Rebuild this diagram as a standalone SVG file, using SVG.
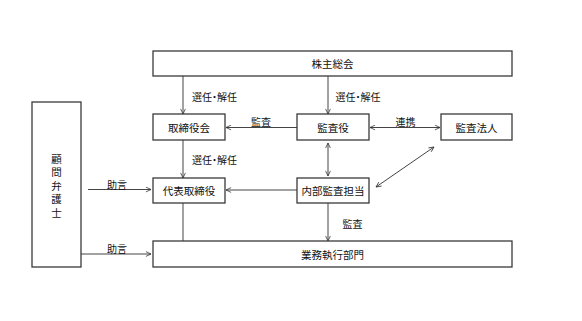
<svg xmlns="http://www.w3.org/2000/svg" width="582" height="321" viewBox="0 0 582 321">
<defs>
<marker id="ah" viewBox="0 0 10 10" refX="9.5" refY="5" markerWidth="6" markerHeight="6" orient="auto-start-reverse" markerUnits="userSpaceOnUse">
<path d="M1,1 L9.5,5 L1,9" fill="none" stroke="#333" stroke-width="1.3"/>
</marker>
<style>
.box{fill:#fff;stroke:#3a3a3a;stroke-width:1.3}
.t{font-family:"Noto Sans CJK JP","Noto Sans CJK SC",sans-serif;font-size:10.5px;fill:#111;text-anchor:middle;dominant-baseline:central}
.l{font-family:"Noto Sans CJK JP","Noto Sans CJK SC",sans-serif;font-size:10px;fill:#111;text-anchor:middle;dominant-baseline:central;font-feature-settings:"palt"}
.c{fill:none;stroke:#444;stroke-width:1}
.a{marker-end:url(#ah)}
.d{marker-start:url(#ah);marker-end:url(#ah)}
</style>
</defs>
<rect width="582" height="321" fill="#fff"/>
<g id="connectors">
<line class="c a" x1="183" y1="76" x2="183" y2="114"/>
<line class="c a" x1="328" y1="76" x2="328" y2="114"/>
<line class="c a" x1="297" y1="127.5" x2="226" y2="127.5"/>
<line class="c d" x1="370" y1="127.5" x2="440" y2="127.5"/>
<line class="c a" x1="183" y1="140" x2="183" y2="178"/>
<line class="c d" x1="328" y1="143" x2="328" y2="176"/>
<line class="c d" x1="376" y1="187" x2="434" y2="147"/>
<line class="c a" x1="297" y1="190" x2="226" y2="190"/>
<line class="c" x1="183" y1="203" x2="183" y2="241"/>
<line class="c a" x1="328" y1="203" x2="328" y2="241"/>
<line class="c a" x1="88" y1="189.5" x2="151" y2="189.5"/>
<line class="c a" x1="81" y1="254" x2="151" y2="254"/>
<text class="l" x="214.5" y="96">選任・解任</text>
<text class="l" x="358" y="96">選任・解任</text>
<text class="l" x="214.5" y="159">選任・解任</text>
<text class="l" x="261" y="121.5">監査</text>
<text class="l" x="405.5" y="121.5">連携</text>
<text class="l" x="352.5" y="223">監査</text>
<text class="l" x="117" y="184">助言</text>
<text class="l" x="117" y="248">助言</text>
</g>
<g id="kabunushi">
<rect class="box" x="153" y="51" width="359" height="25"/>
<text class="t" x="332.5" y="63.5">株主総会</text>
</g>
<g id="torishimariyakukai">
<rect class="box" x="153" y="114" width="72" height="26"/>
<text class="t" x="189" y="127">取締役会</text>
</g>
<g id="kansayaku">
<rect class="box" x="297" y="114" width="72" height="26"/>
<text class="t" x="333" y="127">監査役</text>
</g>
<g id="kansahoujin">
<rect class="box" x="441" y="114" width="71" height="26"/>
<text class="t" x="476.5" y="127">監査法人</text>
</g>
<g id="daihyou">
<rect class="box" x="153" y="178" width="72" height="25"/>
<text class="t" x="189" y="190.5">代表取締役</text>
</g>
<g id="naibukansa">
<rect class="box" x="297" y="178" width="72" height="25"/>
<text class="t" x="333" y="190.5">内部監査担当</text>
</g>
<g id="gyoumu">
<rect class="box" x="153" y="241" width="359" height="26"/>
<text class="t" x="332.5" y="254">業務執行部門</text>
</g>
<g id="komon">
<rect class="box" x="32" y="102" width="49" height="165"/>
<text class="t" x="56.5" y="158">顧</text>
<text class="t" x="56.5" y="171.5">問</text>
<text class="t" x="56.5" y="185">弁</text>
<text class="t" x="56.5" y="198.5">護</text>
<text class="t" x="56.5" y="212">士</text>
</g>
</svg>
